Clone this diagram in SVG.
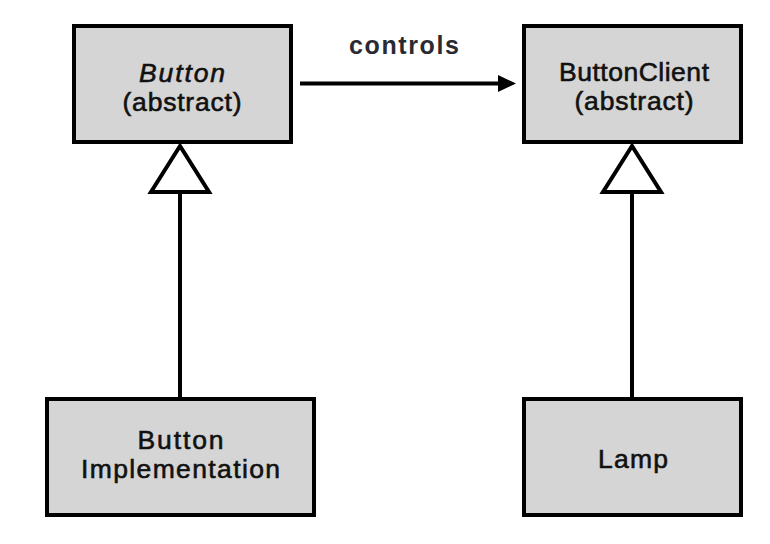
<svg xmlns="http://www.w3.org/2000/svg" width="770" height="544" viewBox="0 0 770 544">
<style>
.box{fill:#d5d5d5;stroke:#000;stroke-width:4}
.t{font-family:"Liberation Sans",Arial,sans-serif;font-size:26.5px;fill:#111;stroke:#111;stroke-width:0.6;text-anchor:middle}
.lbl{font-family:"Liberation Sans",Arial,sans-serif;font-size:25px;font-weight:bold;fill:#2a2a33;text-anchor:middle}
.tri{fill:#fff;stroke:#000;stroke-width:4;stroke-linejoin:miter}
.ln{stroke:#000;stroke-width:4;fill:none}
</style>
<rect width="770" height="544" fill="#fff"/>
<g id="connectors">
<line class="ln" x1="180" y1="192" x2="180" y2="398"/>
<polygon class="tri" points="180,146 151,192 209,192"/>
<line class="ln" x1="632" y1="192" x2="632" y2="398"/>
<polygon class="tri" points="632,146 603,192 661,192"/>
<line class="ln" x1="300" y1="83.5" x2="500" y2="83.5"/>
<polygon points="498,75 516,83.5 498,92" fill="#000"/>
<text class="lbl" x="404" y="54" textLength="110" lengthAdjust="spacing">controls</text>
</g>
<g id="button">
<rect class="box" x="74" y="26" width="217" height="116"/>
<text class="t" x="182" y="82" font-style="italic" textLength="86" lengthAdjust="spacing">Button</text>
<text class="t" x="182" y="111" textLength="119" lengthAdjust="spacing">(abstract)</text>
</g>
<g id="buttonclient">
<rect class="box" x="524" y="26" width="217" height="116"/>
<text class="t" x="634" y="81" textLength="150" lengthAdjust="spacing">ButtonClient</text>
<text class="t" x="634" y="110" textLength="119" lengthAdjust="spacing">(abstract)</text>
</g>
<g id="buttonimpl">
<rect class="box" x="47" y="399" width="267" height="116"/>
<text class="t" x="180.5" y="449" textLength="86" lengthAdjust="spacing">Button</text>
<text class="t" x="180.5" y="478" textLength="199" lengthAdjust="spacing">Implementation</text>
</g>
<g id="lamp">
<rect class="box" x="524" y="399" width="217" height="116"/>
<text class="t" x="633" y="468" textLength="70" lengthAdjust="spacing">Lamp</text>
</g>
</svg>
